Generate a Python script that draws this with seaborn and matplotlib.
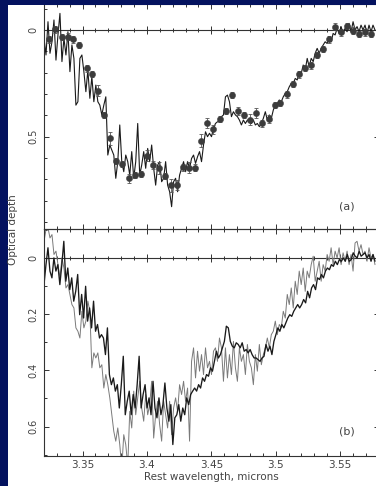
import numpy as np
import pandas as pd
import matplotlib
matplotlib.use("Agg")
import matplotlib.pyplot as plt
from matplotlib.patches import Rectangle
from matplotlib.ticker import MultipleLocator, FuncFormatter
import seaborn as sns

# ---------------- data ----------------
wl_first = 3.3200   # first sample of the spectra (microns)
wl_last = 3.5772    # last visible sample

tau_a_line = [
    0.039, 0.117, -0.039, 0.109, 0.055, -0.047, 0.141, 0.023, -0.078, 0.148,
    0.039, 0.117, 0.008, 0.195, 0.070, 0.133, 0.352, 0.336, 0.133, 0.117,
    0.195, 0.289, 0.188, 0.320, 0.219, 0.336, 0.258, 0.336, 0.352, 0.398,
    0.352, 0.313, 0.586, 0.539, 0.563, 0.586, 0.695, 0.617, 0.445, 0.617,
    0.664, 0.586, 0.617, 0.680, 0.570, 0.695, 0.617, 0.438, 0.680, 0.633,
    0.570, 0.648, 0.555, 0.617, 0.539, 0.648, 0.727, 0.633, 0.617, 0.711,
    0.695, 0.617, 0.727, 0.758, 0.828, 0.711, 0.695, 0.758, 0.680, 0.648,
    0.617, 0.664, 0.617, 0.648, 0.602, 0.586, 0.625, 0.594, 0.570, 0.617,
    0.539, 0.477, 0.500, 0.484, 0.500, 0.461, 0.438, 0.430, 0.430, 0.406,
    0.398, 0.313, 0.305, 0.336, 0.406, 0.383, 0.398, 0.406, 0.422, 0.445,
    0.422, 0.438, 0.422, 0.430, 0.438, 0.422, 0.445, 0.438, 0.453, 0.438,
    0.414, 0.383, 0.422, 0.398, 0.414, 0.375, 0.352, 0.344, 0.328, 0.336,
    0.313, 0.297, 0.289, 0.266, 0.250, 0.250, 0.227, 0.234, 0.195, 0.203,
    0.164, 0.188, 0.133, 0.172, 0.133, 0.148, 0.109, 0.086, 0.109, 0.086,
    0.070, 0.055, 0.063, 0.031, 0.055, 0.016, 0.023, -0.008, 0.016, -0.016,
    0.016, -0.008, 0.008, -0.031, 0.008, -0.039, 0.000, -0.016, 0.008, -0.023,
    0.000, -0.023, 0.016, -0.023, 0.008, -0.023, 0.000,
]

marker_wl = [
    3.3239, 3.3285, 3.3337, 3.3384, 3.3428, 3.3474, 3.3531, 3.3575, 3.3622, 3.3669,
    3.3715, 3.3762, 3.3808, 3.3858, 3.3907, 3.3951, 3.3997, 3.4047, 3.4093, 3.4137,
    3.4186, 3.4233, 3.4280, 3.4326, 3.4373, 3.4422, 3.4469, 3.4515, 3.4564, 3.4611,
    3.4658, 3.4707, 3.4753, 3.4803, 3.4849, 3.4896, 3.4945, 3.4992, 3.5036, 3.5085,
    3.5131, 3.5181, 3.5227, 3.5274, 3.5320, 3.5367, 3.5416, 3.5460, 3.5509, 3.5556,
    3.5603, 3.5649, 3.5698, 3.5742,
]
marker_tau = [
    0.044, -0.003, 0.034, 0.031, 0.044, 0.070, 0.180, 0.205, 0.284, 0.398,
    0.508, 0.613, 0.628, 0.695, 0.680, 0.675, 0.589, 0.633, 0.647, 0.684,
    0.727, 0.727, 0.644, 0.645, 0.645, 0.519, 0.436, 0.466, 0.417, 0.380,
    0.305, 0.380, 0.398, 0.420, 0.389, 0.438, 0.417, 0.352, 0.341, 0.302,
    0.252, 0.208, 0.177, 0.166, 0.117, 0.089, 0.044, -0.016, 0.011, -0.019,
    0.003, 0.019, 0.011, 0.019,
]
marker_err = [
    0.015, 0.015, 0.015, 0.015, 0.015, 0.015, 0.015, 0.015, 0.025, 0.015,
    0.030, 0.015, 0.015, 0.020, 0.015, 0.015, 0.025, 0.020, 0.030, 0.015,
    0.030, 0.025, 0.015, 0.025, 0.015, 0.030, 0.025, 0.020, 0.015, 0.015,
    0.015, 0.020, 0.015, 0.025, 0.025, 0.015, 0.020, 0.015, 0.015, 0.015,
    0.015, 0.015, 0.015, 0.015, 0.015, 0.015, 0.015, 0.015, 0.015, 0.015,
    0.015, 0.015, 0.015, 0.015,
]

tau_b_dark = [
    0.095, 0.024, -0.036, 0.047, 0.071, 0.000, 0.047, 0.024, 0.095, 0.024,
    -0.059, 0.083, 0.036, 0.113, 0.071, 0.154, 0.119, 0.059, 0.202, 0.130,
    0.214, 0.101, 0.225, 0.178, 0.249, 0.154, 0.261, 0.237, 0.285, 0.273,
    0.285, 0.344, 0.249, 0.415, 0.451, 0.427, 0.474, 0.451, 0.534, 0.451,
    0.350, 0.558, 0.510, 0.474, 0.558, 0.486, 0.534, 0.451, 0.350, 0.534,
    0.486, 0.451, 0.534, 0.498, 0.558, 0.439, 0.534, 0.569, 0.498, 0.558,
    0.522, 0.445, 0.534, 0.581, 0.522, 0.664, 0.569, 0.558, 0.522, 0.581,
    0.534, 0.558, 0.498, 0.522, 0.486, 0.474, 0.463, 0.474, 0.451, 0.463,
    0.427, 0.439, 0.415, 0.421, 0.391, 0.403, 0.368, 0.332, 0.356, 0.344,
    0.320, 0.297, 0.243, 0.249, 0.297, 0.314, 0.320, 0.302, 0.308, 0.320,
    0.302, 0.332, 0.326, 0.338, 0.326, 0.344, 0.356, 0.356, 0.362, 0.368,
    0.356, 0.350, 0.308, 0.332, 0.314, 0.344, 0.297, 0.273, 0.249, 0.261,
    0.237, 0.249, 0.231, 0.214, 0.202, 0.208, 0.190, 0.178, 0.166, 0.178,
    0.166, 0.148, 0.160, 0.119, 0.142, 0.107, 0.095, 0.113, 0.071, 0.077,
    0.059, 0.071, 0.047, 0.036, 0.042, 0.024, 0.030, 0.012, 0.024, 0.006,
    0.012, 0.000, 0.012, -0.012, 0.012, 0.006, -0.018, -0.006, 0.000, -0.024,
    -0.006, -0.012, -0.018, 0.000, -0.012, 0.012, -0.012, 0.012,
]

tau_b_grey = [
    -0.059, -0.101, -0.107, -0.071, -0.083, -0.012, -0.024, 0.024, 0.071, 0.000,
    0.036, 0.107, 0.095, 0.130, 0.166, 0.178, 0.249, 0.261, 0.285, 0.190,
    0.249, 0.225, 0.154, 0.190, 0.391, 0.338, 0.356, 0.338, 0.391, 0.380,
    0.463, 0.415, 0.451, 0.498, 0.558, 0.617, 0.652, 0.605, 0.664, 0.750,
    0.629, 0.664, 0.740, 0.546, 0.605, 0.474, 0.558, 0.498, 0.439, 0.534,
    0.581, 0.486, 0.558, 0.522, 0.439, 0.641, 0.558, 0.510, 0.593, 0.652,
    0.510, 0.558, 0.605, 0.510, 0.629, 0.534, 0.498, 0.546, 0.451, 0.486,
    0.439, 0.510, 0.463, 0.652, 0.368, 0.320, 0.427, 0.332, 0.403, 0.344,
    0.415, 0.320, 0.391, 0.368, 0.415, 0.332, 0.320, 0.368, 0.285, 0.320,
    0.439, 0.320, 0.427, 0.344, 0.415, 0.297, 0.391, 0.439, 0.320, 0.368,
    0.344, 0.415, 0.308, 0.368, 0.391, 0.451, 0.344, 0.403, 0.308, 0.380,
    0.344, 0.320, 0.285, 0.320, 0.273, 0.261, 0.225, 0.273, 0.237, 0.249,
    0.190, 0.214, 0.130, 0.166, 0.107, 0.178, 0.083, 0.130, 0.047, 0.095,
    0.036, 0.119, 0.047, 0.071, 0.024, -0.006, 0.083, 0.047, 0.012, 0.083,
    0.024, 0.047, -0.012, 0.012, -0.036, 0.024, -0.024, 0.000, -0.036, 0.024,
    -0.018, 0.012, -0.024, 0.024, -0.012, 0.047, -0.053, -0.059, -0.024, -0.047,
    -0.012, -0.024, 0.012, -0.036, 0.000, -0.012, 0.024,
]

x_ticks = [3.35, 3.40, 3.45, 3.50, 3.55]
y_ticks_a = [0.0, 0.5]
y_ticks_b = [0.0, 0.2, 0.4, 0.6]
panel_labels = ["(a)", "(b)"]
x_label = "Rest wavelength, microns"
y_label = "Optical depth"

# ---------------- style ----------------
sns.set_theme(style="white")
plt.rcParams['font.family'] = ['DejaVu Sans']

W, H = 376, 486
NAVY = "#04125f"
TXT = "#444444"
AX = "#333333"

fig = plt.figure(figsize=(W / 100, H / 100), dpi=100, facecolor=NAVY)
fig.add_artist(Rectangle((8 / W, 0), 1, 1 - 5 / H, transform=fig.transFigure,
                         facecolor="white", edgecolor="none", zorder=-5))

left = 44 / W
width = (378.6 - 44) / W
axA = fig.add_axes([left, 1 - 229.5 / H, width, (229.5 - 4) / H])
axB = fig.add_axes([left, 1 - 455.5 / H, width, (455.5 - 229.5) / H])

xlim = (3.32, 3.58)
ylimA = (0.935, -0.122)
ylimB = (0.703, -0.101)

# panel (a)
dfa = pd.DataFrame({"wl": np.linspace(wl_first, wl_last, len(tau_a_line)), "tau": tau_a_line})
sns.lineplot(data=dfa, x="wl", y="tau", ax=axA, color="#1a1a1a", lw=0.8,
             sort=False, estimator=None)
axA.errorbar(marker_wl, marker_tau, yerr=marker_err, fmt="none", ecolor="#555555",
             elinewidth=0.6, capsize=1.6, capthick=0.6, zorder=3)
dfm = pd.DataFrame({"wl": marker_wl, "tau": marker_tau})
sns.scatterplot(data=dfm, x="wl", y="tau", ax=axA, color="#3c3c3c", s=20,
                edgecolor="#3c3c3c", linewidth=0.3, zorder=4)

# panel (b)
dfg = pd.DataFrame({"wl": np.linspace(wl_first, wl_last, len(tau_b_grey)), "tau": tau_b_grey})
dfd = pd.DataFrame({"wl": np.linspace(wl_first, wl_last, len(tau_b_dark)), "tau": tau_b_dark})
sns.lineplot(data=dfg, x="wl", y="tau", ax=axB, color="#7a7a7a", lw=0.7,
             sort=False, estimator=None)
sns.lineplot(data=dfd, x="wl", y="tau", ax=axB, color="#1a1a1a", lw=0.95,
             sort=False, estimator=None)

fmt = FuncFormatter(lambda v, p: f"{v:g}")

for ax, ylim, yt, lab in [(axA, ylimA, y_ticks_a, panel_labels[0]),
                          (axB, ylimB, y_ticks_b, panel_labels[1])]:
    ax.set_xlim(*xlim)
    ax.set_ylim(*ylim)
    ax.set_facecolor("none")
    ax.set_xlabel("")
    ax.set_ylabel("")
    ax.set_xticks(x_ticks)
    ax.xaxis.set_minor_locator(MultipleLocator(0.01))
    ax.set_yticks(yt)
    ax.yaxis.set_minor_locator(MultipleLocator(0.1))
    ax.xaxis.set_major_formatter(fmt)
    ax.yaxis.set_major_formatter(fmt)
    for s in ax.spines.values():
        s.set_color(AX)
        s.set_linewidth(0.8)
    ax.tick_params(which="both", direction="in", top=True, bottom=True,
                   left=True, right=True, color=AX, width=0.7)
    ax.tick_params(which="major", length=3.8)
    ax.tick_params(which="minor", length=2.2)
    ax.tick_params(axis="y", labelrotation=90, labelsize=7, labelcolor=TXT, pad=4)
    ax.tick_params(axis="x", labelsize=7.5, labelcolor=TXT, pad=3)
    for t in ax.get_yticklabels():
        t.set_va("center")
    # zero line with crossing ticks
    pos0 = ylim[0] / (ylim[0] - ylim[1])
    sec = ax.secondary_xaxis(pos0)
    sec.set_xticks(x_ticks)
    sec.xaxis.set_minor_locator(MultipleLocator(0.01))
    sec.tick_params(which="both", direction="inout", labeltop=False, labelbottom=False,
                    color=AX, width=0.7)
    sec.tick_params(which="major", length=6)
    sec.tick_params(which="minor", length=3)
    for s in sec.spines.values():
        s.set_color(AX)
        s.set_linewidth(0.8)
    ax.text(0.904, 0.1 if ax is axA else 0.105, lab, transform=ax.transAxes,
            ha="center", va="center", fontsize=8, color=TXT)

axA.tick_params(axis="x", labelbottom=False)
axB.set_xlabel(x_label, fontsize=7.5, color=TXT, labelpad=2)
fig.text(13 / W, 1 - 230 / H, y_label, rotation=90, ha="center", va="center",
         fontsize=7.5, color=TXT)

# navy top strip hides the top frame edge like in the slide
fig.add_artist(Rectangle((0, 1 - 5 / H), 1, 5 / H, transform=fig.transFigure,
                         facecolor=NAVY, edgecolor="none", zorder=20))

fig.savefig("out.png", dpi=100, facecolor=NAVY)
